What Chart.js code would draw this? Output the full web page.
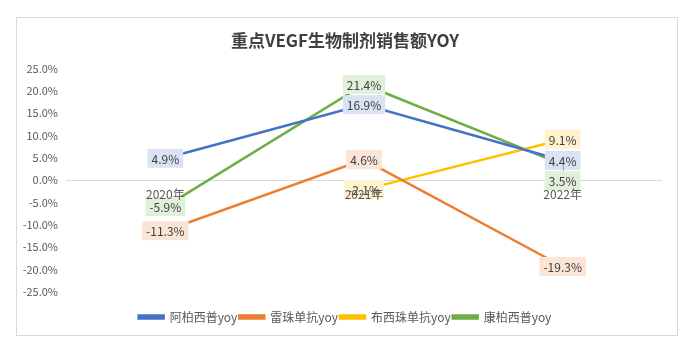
<!DOCTYPE html>
<html lang="zh">
<head>
    <meta charset="UTF-8">
    <title>重点VEGF生物制剂销售额YOY</title>
    <script src="https://cdn.jsdelivr.net/npm/chart.js"></script>
    <style>
        html, body { margin: 0; padding: 0; background: #ffffff; }
        #wrap { width: 690px; height: 347px; position: relative; }
    </style>
</head>
<body>
    <div id="wrap"><canvas id="yoyChart"></canvas></div>

    <script>
        // 年份
        var years = ['2020年', '2021年', '2022年'];

        // 各产品销售额同比 (%)
        var aflibercept = [4.9, 16.9, 4.4];      // 阿柏西普
        var ranibizumab = [-11.3, 4.6, -19.3];   // 雷珠单抗
        var brolucizumab = [null, -2.1, 9.1];    // 布西珠单抗
        var conbercept = [-5.9, 21.4, 3.5];      // 康柏西普

        var yTicks = [-25, -20, -15, -10, -5, 0, 5, 10, 15, 20, 25];

        var FONT = '"Noto Sans CJK SC", "Noto Sans", sans-serif';

        // light box fill per series for the value labels
        var labelFill = ['#dae3f3', '#fbe5d6', '#fff2cc', '#e2f0d9'];

        // outer frame around the whole chart
        var framePlugin = {
            id: 'frame',
            beforeDraw: function (chart) {
                var ctx = chart.ctx;
                ctx.save();
                ctx.fillStyle = '#ffffff';
                ctx.fillRect(0, 0, chart.width, chart.height);
                ctx.strokeStyle = '#d9d9d9';
                ctx.lineWidth = 1;
                ctx.strokeRect(16.5, 17.5, 661, 318);
                ctx.restore();
            }
        };

        // value labels in filled boxes, centred on each point
        var valueLabels = {
            id: 'valueLabels',
            afterDatasetsDraw: function (chart) {
                var ctx = chart.ctx;
                ctx.save();
                ctx.font = '12px ' + FONT;
                ctx.textAlign = 'center';
                ctx.textBaseline = 'middle';
                chart.data.datasets.forEach(function (ds, di) {
                    var meta = chart.getDatasetMeta(di);
                    meta.data.forEach(function (pt, i) {
                        var v = ds.data[i];
                        if (v === null || v === undefined) return;
                        var text = v.toFixed(1) + '%';
                        var shift = (ds.labelShift && ds.labelShift[i]) || 0;
                        var w = ctx.measureText(text).width + 8;
                        var h = 19;
                        var x = pt.x, y = pt.y + shift;
                        if (shift) {
                            // leader line back to the point
                            ctx.strokeStyle = '#a6a6a6';
                            ctx.lineWidth = 1;
                            ctx.beginPath();
                            ctx.moveTo(Math.round(x) + 0.5, pt.y);
                            ctx.lineTo(Math.round(x) + 0.5, y - h / 2);
                            ctx.stroke();
                        }
                        ctx.fillStyle = labelFill[di];
                        ctx.fillRect(x - w / 2, y - h / 2, w, h);
                        ctx.fillStyle = '#404040';
                        ctx.fillText(text, x, y + 1);
                    });
                });
                ctx.restore();
            }
        };

        function series(label, data, color, shift) {
            return {
                label: label,
                data: data,
                borderColor: color,
                backgroundColor: color,
                borderWidth: 2.5,
                pointRadius: 0,
                tension: 0,
                spanGaps: false,
                labelShift: shift
            };
        }

        // empty axes used only to reserve space around the plot
        function spacer(type, position, size) {
            return {
                type: type,
                position: position,
                display: true,
                grid: { display: false },
                border: { display: false },
                ticks: { display: false },
                afterFit: function (scale) {
                    if (scale.isHorizontal()) scale.height = size;
                    else scale.width = size;
                }
            };
        }

        var chart = new Chart(document.getElementById('yoyChart'), {
            type: 'line',
            data: {
                labels: years,
                datasets: [
                    series('阿柏西普yoy', aflibercept, '#4472c4'),
                    series('雷珠单抗yoy', ranibizumab, '#ed7d31'),
                    series('布西珠单抗yoy', brolucizumab, '#ffc000'),
                    series('康柏西普yoy', conbercept, '#70ad47', [0, 0, 16])
                ]
            },
            options: {
                responsive: true,
                maintainAspectRatio: false,
                animation: false,
                layout: { padding: { left: 0, right: 0, top: 20, bottom: 14 } },
                plugins: {
                    title: {
                        display: true,
                        text: '重点VEGF生物制剂销售额YOY',
                        color: '#404040',
                        font: { family: FONT, size: 17, weight: 'bold' },
                        padding: { top: 10, bottom: 18 }
                    },
                    legend: {
                        position: 'bottom',
                        labels: {
                            boxWidth: 25,
                            boxHeight: 3,
                            padding: 2,
                            color: '#595959',
                            font: { family: FONT, size: 12 }
                        }
                    },
                    tooltip: { enabled: false }
                },
                scales: {
                    x: {
                        position: { y: 0 },
                        offset: true,
                        grid: { display: false, drawTicks: false },
                        border: { display: false },
                        ticks: {
                            z: 1,
                            color: '#595959',
                            padding: 7,
                            font: { family: FONT, size: 12 },
                            maxRotation: 0
                        }
                    },
                    xPad: spacer('category', 'bottom', 17),
                    y: {
                        min: yTicks[0],
                        max: yTicks[yTicks.length - 1],
                        afterBuildTicks: function (scale) {
                            scale.ticks = yTicks.map(function (v) { return { value: v }; });
                        },
                        afterFit: function (scale) { scale.width = 66; },
                        // only the zero line is drawn
                        grid: {
                            drawTicks: false,
                            color: function (c) {
                                return c.tick && c.tick.value === 0 ? '#d9d9d9' : 'rgba(0,0,0,0)';
                            }
                        },
                        border: { display: false },
                        ticks: {
                            color: '#595959',
                            padding: 8,
                            font: { family: FONT, size: 11 },
                            callback: function (v) { return v.toFixed(1) + '%'; }
                        }
                    },
                    yPad: spacer('linear', 'right', 28)
                }
            },
            plugins: [framePlugin, valueLabels]
        });
    </script>
</body>
</html>
